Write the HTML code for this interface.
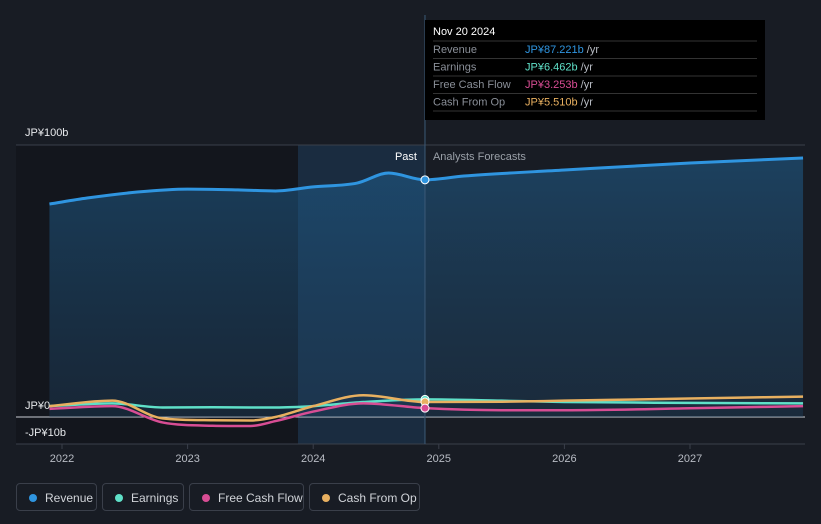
<!DOCTYPE html>
<html><head><meta charset="utf-8"><style>
body{margin:0;background:#181c24;font-family:"Liberation Sans","Noto Sans CJK JP",sans-serif;}
svg text{font-family:"Liberation Sans","Noto Sans CJK JP",sans-serif;}
.leg{position:absolute;top:483px;height:28px;border:1px solid #3a3f4a;border-radius:4px;color:#d0d3d8;font-size:12px;line-height:28px;box-sizing:border-box;padding-left:28px}
.leg i{position:absolute;left:12px;top:10px;width:8px;height:8px;border-radius:50%}
</style></head><body>
<div style="position:relative;width:821px;height:524px;overflow:hidden">
<svg id="c" width="821" height="524" style="position:absolute;left:0;top:0"></svg>
<div class="leg" style="left:16px;width:81px"><i style="background:#2f95e0"></i>Revenue</div>
<div class="leg" style="left:102px;width:82px"><i style="background:#5fe0c8"></i>Earnings</div>
<div class="leg" style="left:189px;width:115px"><i style="background:#d84d94"></i>Free Cash Flow</div>
<div class="leg" style="left:309px;width:111px"><i style="background:#e8b060"></i>Cash From Op</div>
</div>
<script>
const revX=[2021.9,2022.2,2022.6,2023.0,2023.4,2023.7,2024.0,2024.35,2024.6,2024.89,2025.2,2026,2027,2027.9];
const revY=[78.3,80.5,82.7,83.8,83.5,83.1,84.6,86,89.7,87.2,88.6,90.8,93.4,95.2];
const otherX=[2021.9,2022.4,2022.8,2023.2,2023.5,2023.7,2024.0,2024.4,2024.89,2025.5,2026,2027,2027.9];
const earnY=[4,5,3.5,3.6,3.5,3.5,4,5.5,6.46,6,5.5,5.2,5];
const fcfY=[3,4,-2,-3.2,-3.3,-1.5,2,5,3.25,2.5,2.5,3.2,4];
const cfoY=[4,6,-0.5,-1.2,-1.3,0,4,8,5.5,5.6,6,6.8,7.5];
const yTicks=[100,0,-10];const yLabels=["JP¥100b","JP¥0","-JP¥10b"];
const xTicks=[2022,2023,2024,2025,2026,2027];
const nowX=2024.89;
const sx=v=>62+(v-2022)*125.6, sy=v=>417-v*2.72;
const svg=document.getElementById('c');const NS='http://www.w3.org/2000/svg';
function el(t,a,p){const e=document.createElementNS(NS,t);for(const k in a)e.setAttribute(k,a[k]);(p||svg).appendChild(e);return e;}
function path(xs,ys){const P=xs.map((x,i)=>[sx(x),sy(ys[i])]);const n=P.length;const d=[],m=[];
for(let i=0;i<n-1;i++)d.push((P[i+1][1]-P[i][1])/(P[i+1][0]-P[i][0]));
m[0]=d[0];m[n-1]=d[n-2];for(let i=1;i<n-1;i++)m[i]=(d[i-1]*d[i]<=0)?0:(d[i-1]+d[i])/2;
for(let i=0;i<n-1;i++){if(d[i]===0){m[i]=0;m[i+1]=0;continue;}const a=m[i]/d[i],b=m[i+1]/d[i],s=a*a+b*b;if(s>9){const t=3/Math.sqrt(s);m[i]=t*a*d[i];m[i+1]=t*b*d[i];}}
let s='M'+P[0];for(let i=0;i<n-1;i++){const h=(P[i+1][0]-P[i][0])/3;s+=`C${P[i][0]+h},${P[i][1]+m[i]*h} ${P[i+1][0]-h},${P[i+1][1]-m[i+1]*h} ${P[i+1][0]},${P[i+1][1]}`;}return s;}
const px=sx(nowX);
let r=el('rect',{x:16,y:145,width:px-16,height:299,fill:'#13161d'});
r=el('rect',{x:298,y:145,width:px-298,height:299,fill:'#1a2c40'});
const defs=el('defs',{});const g=el('linearGradient',{id:'rg',x1:0,y1:0,x2:0,y2:1},defs);
el('stop',{offset:0,'stop-color':'#1f5f8f','stop-opacity':0.55},g);el('stop',{offset:1,'stop-color':'#1f4566','stop-opacity':0.35},g);
yTicks.forEach((v,i)=>{if(v>=0){const l=el('line',{x1:16,x2:805,y1:sy(v),y2:sy(v),stroke:v===0?'#c8ccd2':'#3a3f4a','stroke-width':1});}
const t=el('text',{x:25,y:v<0?436:sy(v)+(v===0?-8:-9),fill:'#e6e8eb','font-size':11});t.textContent=yLabels[i];});
let ax=el('line',{x1:16,x2:805,y1:444,y2:444,stroke:'#3a3f4a'});
xTicks.forEach(v=>{const l=el('line',{x1:sx(v),x2:sx(v),y1:444,y2:449,stroke:'#3a3f4a'});
const t=el('text',{x:sx(v),y:462,fill:'#b8bcc4','font-size':11,'text-anchor':'middle'});t.textContent=v;});
const rp=path(revX,revY);
let a=el('path',{d:rp+`L${sx(revX[revX.length-1])},${sy(0)}L${sx(revX[0])},${sy(0)}Z`,fill:'url(#rg)'});
let nl=el('line',{x1:px,x2:px,y1:15,y2:444,stroke:'#3c5a78'});
const series=[[earnY,'#5fe0c8','earnings-line'],[fcfY,'#d84d94','free-cash-flow-line'],[cfoY,'#e8b060','cash-from-op-line']];
series.forEach(s=>{const p=el('path',{d:path(otherX,s[0]),fill:'none',stroke:s[1],'stroke-width':2.5});});
let rl=el('path',{d:rp,fill:'none',stroke:'#2f95e0','stroke-width':3});
const idx=otherX.indexOf(nowX);
[[earnY[idx],'#5fe0c8'],[cfoY[idx],'#e8b060'],[fcfY[idx],'#d84d94'],[revY[revX.indexOf(nowX)],'#2f95e0']].forEach(m=>{const c=el('circle',{cx:px,cy:sy(m[0]),r:4,fill:m[1],stroke:'#fff','stroke-width':1});});
let t=el('text',{x:px-8,y:160,fill:'#fff','font-size':11,'text-anchor':'end'});t.textContent='Past';
t=el('text',{x:px+8,y:160,fill:'#9aa0a8','font-size':11});t.textContent='Analysts Forecasts';
const tg=el('g',{});
el('rect',{x:425,y:20,width:340,height:100,fill:'#000'},tg);
t=el('text',{x:433,y:35,fill:'#fff','font-size':11},tg);t.textContent='Nov 20 2024';
const tl=['Revenue','Earnings','Free Cash Flow','Cash From Op'],tv=['JP¥87.221b','JP¥6.462b','JP¥3.253b','JP¥5.510b'],tc=['#2f95e0','#5fe0c8','#d84d94','#e8b060'];
for(let i=0;i<4;i++){const y=53+i*17.5;el('line',{x1:433,x2:757,y1:y-12,y2:y-12,stroke:'#333'},tg);
let a1=el('text',{x:433,y:y,fill:'#8a8f98','font-size':11},tg);a1.textContent=tl[i];
let a2=el('text',{x:525,y:y,fill:tc[i],'font-size':11},tg);a2.textContent=tv[i];
let a3=el('tspan',{fill:'#b8bcc4'},a2);a3.textContent=' /yr';}
el('line',{x1:433,x2:757,y1:111,y2:111,stroke:'#333'},tg);
</script></body></html>
